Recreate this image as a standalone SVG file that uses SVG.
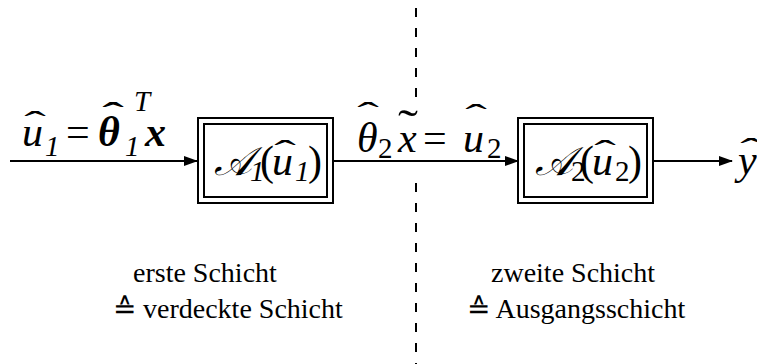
<svg xmlns="http://www.w3.org/2000/svg" width="757" height="364" viewBox="0 0 757 364">
<style>
text{font-family:'Liberation Serif','Times New Roman',Times,serif;fill:#000}
.m{font-size:42px}
.s{font-size:29px}
.i{font-style:italic}
.b{font-weight:bold}
.h{font-size:50px;text-anchor:middle}
.c{font-size:40px;font-family:'DejaVu Serif',serif}
.l{font-size:28px}
.box{fill:#fff;stroke:#000;stroke-width:2}
.ln{stroke:#000;stroke-width:2;fill:none}
.dash{stroke:#000;stroke-width:2;stroke-dasharray:9 11}
</style>
<defs>
<marker id="ah" markerWidth="14" markerHeight="10" refX="13" refY="5" orient="auto" markerUnits="userSpaceOnUse">
<path d="M0,0 L14,5 L0,10 Z" fill="#000"/>
</marker>
</defs>
<rect width="757" height="364" fill="#fff"/>
<g id="divider">
<line class="dash" x1="416" y1="8" x2="416" y2="100"/>
<line class="dash" x1="416" y1="183" x2="416" y2="364"/>
</g>
<g id="connectors">
<line class="ln" x1="10" y1="161" x2="197" y2="161" marker-end="url(#ah)"/>
<line class="ln" x1="333" y1="161" x2="518" y2="161" marker-end="url(#ah)"/>
<line class="ln" x1="653" y1="161" x2="732" y2="161" marker-end="url(#ah)"/>
</g>
<g id="label-in">
<text class="m i" x="22" y="146">u</text>
<text class="h" transform="translate(35,133) scale(1.3,0.65)">ˆ</text>
<text class="s i" x="45" y="156">1</text>
<text class="m" x="66" y="146">=</text>
<text class="m i b" x="98" y="146">θ</text>
<text class="h b" transform="translate(113,124) scale(1.3,0.65)">ˆ</text>
<text class="s i" x="125" y="156">1</text>
<text class="s i" x="134" y="111">T</text>
<text class="m i b" x="145" y="146">x</text>
</g>
<g id="node-A1">
<rect class="box" x="198" y="118" width="135" height="85"/>
<rect class="box" x="204" y="124" width="123" height="73"/>
<text class="c i" x="214" y="175">𝒜</text>
<text class="s i" x="250" y="181">1</text>
<text class="m" x="260" y="175">(</text>
<text class="m i" x="272" y="175">u</text>
<text class="h" transform="translate(285,162) scale(1.3,0.65)">ˆ</text>
<text class="s i" x="295" y="181">1</text>
<text class="m" x="308" y="175">)</text>
</g>
<g id="label-mid">
<text class="m i" x="357" y="152">θ</text>
<text class="h" transform="translate(368,124) scale(1.3,0.65)">ˆ</text>
<text class="s" x="378" y="158">2</text>
<text class="m i" x="398" y="152">x</text>
<text class="h" transform="translate(408,140) scale(1.2,0.9)">˜</text>
<text class="m" x="423" y="152">=</text>
<text class="m i" x="463" y="152">u</text>
<text class="h" transform="translate(476,126) scale(1.3,0.65)">ˆ</text>
<text class="s" x="487" y="158">2</text>
</g>
<g id="node-A2">
<rect class="box" x="518" y="118" width="135" height="85"/>
<rect class="box" x="524" y="124" width="123" height="73"/>
<text class="c i" x="535" y="175">𝒜</text>
<text class="s" x="571" y="181">2</text>
<text class="m" x="580" y="175">(</text>
<text class="m i" x="592" y="175">u</text>
<text class="h" transform="translate(605,162) scale(1.3,0.65)">ˆ</text>
<text class="s" x="615" y="181">2</text>
<text class="m" x="628" y="175">)</text>
</g>
<g id="label-out">
<text class="m i" x="738" y="174">y</text>
<text class="h" transform="translate(751,160) scale(1.3,0.65)">ˆ</text>
</g>
<g id="caption-1">
<text class="l" x="133" y="282">erste Schicht</text>
<text class="l" x="113" y="318">≙ verdeckte Schicht</text>
</g>
<g id="caption-2">
<text class="l" x="491" y="282">zweite Schicht</text>
<text class="l" x="467" y="318">≙ Ausgangsschicht</text>
</g>
</svg>
